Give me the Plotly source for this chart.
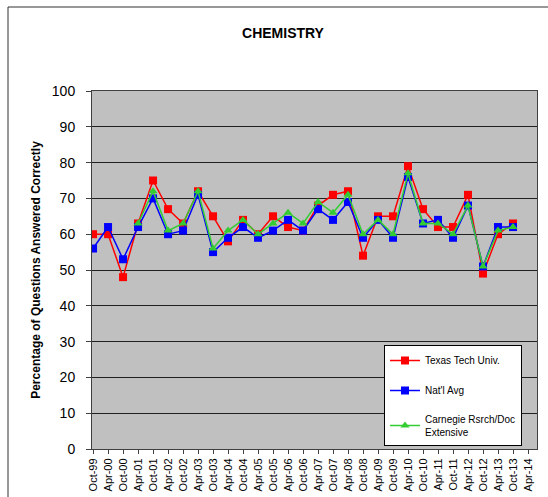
import plotly.graph_objects as go

categories = ["Oct-99", "Apr-00", "Oct-00", "Apr-01", "Oct-01", "Apr-02", "Oct-02", "Apr-03",
              "Oct-03", "Apr-04", "Oct-04", "Apr-05", "Oct-05", "Apr-06", "Oct-06", "Apr-07",
              "Oct-07", "Apr-08", "Oct-08", "Apr-09", "Oct-09", "Apr-10", "Oct-10", "Apr-11",
              "Oct-11", "Apr-12", "Oct-12", "Apr-13", "Oct-13", "Apr-14"]

texas_tech = [60, 60, 48, 63, 75, 67, 63, 72, 65, 58, 64, 60, 65, 62, 61, 68,
              71, 72, 54, 65, 65, 79, 67, 62, 62, 71, 49, 60, 63, None]
natl_avg = [56, 62, 53, 62, 70, 60, 61, 71, 55, 59, 62, 59, 61, 64, 61, 67,
            64, 69, 59, 64, 59, 76, 63, 64, 59, 68, 51, 62, 62, None]
carnegie = [None, None, None, 63, 72, 61, 63, 72, 56, 61, 64, 60, 63, 66, 63, 69,
            66, 71, 60, 64, 60, 77, 63, 63, 60, 68, 51, 61, 62, None]

series = [
    ("Texas Tech Univ.", texas_tech, "#FF0000", "square"),
    ("Nat'l Avg", natl_avg, "#0000FF", "square"),
    ("Carnegie Rsrch/Doc<br>Extensive", carnegie, "#33CC33", "triangle-up"),
]

FONT = "Liberation Sans, Arial, sans-serif"

fig = go.Figure()
for i, (name, vals, color, sym) in enumerate(series):
    fig.add_trace(go.Scatter(
        x=categories, y=vals, name=name, mode="lines+markers",
        line=dict(color=color, width=1.5),
        marker=dict(symbol=sym, size=8, color=color),
        legendgroup=f"g{i}", connectgaps=False,
    ))

W, H = 548, 497
L, R, T, B = 92, 11, 91, 48
pw, ph = W - L - R, H - T - B

def px_x(p):
    return (p - L) / pw

def px_y(p):
    return (H - B - p) / ph

fig.update_layout(
    width=W, height=H,
    margin=dict(l=L, r=R, t=T, b=B, autoexpand=False),
    paper_bgcolor="white",
    plot_bgcolor="#C0C0C0",
    font=dict(family=FONT, color="black"),
    title=dict(text="<b>CHEMISTRY</b>", x=283 / W, xanchor="center",
               y=1 - 33 / H, yanchor="middle", font=dict(size=14, family=FONT)),
    showlegend=True,
    legend=dict(
        x=px_x(384), y=px_y(345), xanchor="left", yanchor="top",
        bgcolor="white", bordercolor="black", borderwidth=1,
        font=dict(size=10, family=FONT), tracegroupgap=11, itemwidth=30,
    ),
    shapes=[dict(type="rect", xref="paper", yref="paper",
                 x0=px_x(8), x1=px_x(600), y0=px_y(560), y1=px_y(7),
                 line=dict(color="#303030", width=1), fillcolor="rgba(0,0,0,0)",
                 layer="below")],
)

fig.update_xaxes(
    type="category",
    range=[-0.07, 29.6],
    tickangle=-90,
    tickfont=dict(size=11, family=FONT),
    ticks="outside", ticklen=4, tickcolor="#404040",
    showgrid=False, automargin=False,
    showline=True, linecolor="#404040", linewidth=1, mirror=True,
)
fig.update_yaxes(
    range=[0, 100], dtick=10,
    tickfont=dict(size=14, family=FONT),
    ticks="outside", ticklen=5, tickcolor="#404040",
    ticklabelstandoff=8, automargin=False,
    showgrid=True, gridcolor="#202020", gridwidth=1,
    showline=True, linecolor="#404040", linewidth=1, mirror=True,
    zeroline=False,
    title=dict(text="<b>Percentage of Questions Answered Correctly</b>",
               font=dict(size=12, family=FONT), standoff=8),
)

fig.write_html("out.html")
